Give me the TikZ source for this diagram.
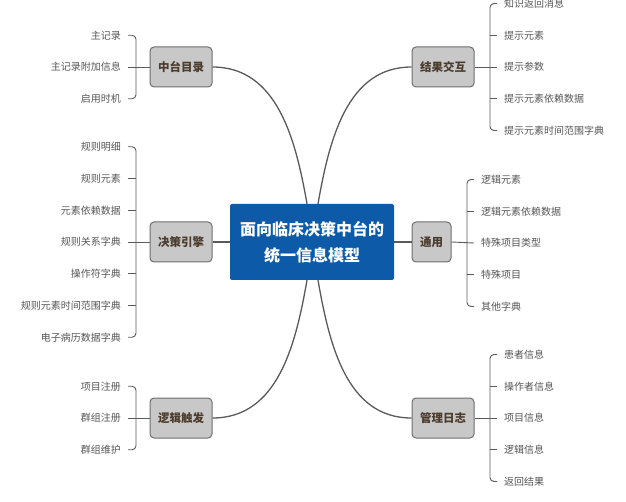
\documentclass[tikz,border=0pt]{standalone}
\usepackage{fontspec}
\setmainfont{Noto Sans CJK SC}
\usepackage{xcolor}

\definecolor{rootblue}{RGB}{12,90,168}
\definecolor{boxgray}{RGB}{200,200,200}
\definecolor{boxline}{RGB}{110,110,110}
\definecolor{branchtext}{RGB}{75,60,45}
\definecolor{leafgray}{RGB}{85,85,85}
\definecolor{linegray}{RGB}{90,90,90}

\begin{document}
\begin{tikzpicture}
    [x=1pt, y=1pt,
    trunk/.style={line width=1.3pt, draw=linegray},
    twig/.style={line width=0.9pt, draw=linegray},
    brace/.style={twig, rounded corners=4pt},
    root/.style={fill=rootblue, text=white, font=\fontsize{16}{26}\selectfont\bfseries,
        align=center, minimum width=164pt, minimum height=76pt, rounded corners=2pt},
    branch/.style={fill=boxgray, draw=boxline, line width=1pt, text=branchtext,
        font=\fontsize{11.5}{14}\selectfont\bfseries, minimum width=62pt,
        minimum height=40pt, rounded corners=4pt, inner sep=2pt},
    leaf/.style={text=leafgray, font=\fontsize{10}{12}\selectfont, inner sep=0pt}]

        \useasboundingbox (0,0) rectangle (626,-502);

        %% root and branches
        \node[root] (root) at (312,-242) {面向临床决策中台的\\统一信息模型};
        \node[branch] (zt) at (181,-67) {中台目录};
        \node[branch] (jc) at (181,-242) {决策引擎};
        \node[branch] (lj) at (181,-418) {逻辑触发};
        \node[branch] (jg) at (443,-67) {结果交互};
        \node[branch, minimum width=39pt] (ty) at (431.5,-242) {通用};
        \node[branch] (gl) at (443,-418) {管理日志};

        \draw[trunk] (zt.east) to[out=0, in=100] ([xshift=-5pt]root.north);
        \draw[trunk] (jg.west) to[out=180, in=80] ([xshift=6pt]root.north);
        \draw[trunk] (lj.east) to[out=0, in=-100] ([xshift=-5pt]root.south);
        \draw[trunk] (gl.west) to[out=180, in=-80] ([xshift=6pt]root.south);
        \draw[trunk] (jc) -- (root);
        \draw[trunk] (root) -- (ty);

        %% left leaves
        \foreach \t [count=\i] in {主记录, 主记录附加信息, 启用时机}
            \node[leaf, anchor=east] (zt-\i) at (121, {-67-(\i-2)*31.75}) {\t};
        \foreach \t [count=\i] in {规则明细, 规则元素, 元素依赖数据, 规则关系字典,
                操作符字典, 规则元素时间范围字典, 电子病历数据字典}
            \node[leaf, anchor=east] (jc-\i) at (121, {-242-(\i-4)*31.75}) {\t};
        \foreach \t [count=\i] in {项目注册, 群组注册, 群组维护}
            \node[leaf, anchor=east] (lj-\i) at (121, {-418-(\i-2)*31.75}) {\t};

        \draw[brace] ([xshift=7pt]zt-1.east) -| ([xshift=15pt]zt-2.east) |- ([xshift=7pt]zt-3.east);
        \draw[twig] ([xshift=7pt]zt-2.east) -- (zt.west);
        \draw[brace] ([xshift=7pt]jc-1.east) -| ([xshift=15pt]jc-4.east) |- ([xshift=7pt]jc-7.east);
        \foreach \i in {2,3,5,6}
            \draw[twig] ([xshift=7pt]jc-\i.east) -- ++(8,0);
        \draw[twig] ([xshift=7pt]jc-4.east) -- (jc.west);
        \draw[brace] ([xshift=7pt]lj-1.east) -| ([xshift=15pt]lj-2.east) |- ([xshift=7pt]lj-3.east);
        \draw[twig] ([xshift=7pt]lj-2.east) -- (lj.west);

        %% right leaves
        \foreach \t [count=\i] in {知识返回消息, 提示元素, 提示参数, 提示元素依赖数据, 提示元素时间范围字典}
            \node[leaf, anchor=west] (jg-\i) at (504, {-67-(\i-3)*31.75}) {\t};
        \foreach \t [count=\i] in {逻辑元素, 逻辑元素依赖数据, 特殊项目类型, 特殊项目, 其他字典}
            \node[leaf, anchor=west] (ty-\i) at (481, {-243-(\i-3)*31.75}) {\t};
        \foreach \t [count=\i] in {患者信息, 操作者信息, 项目信息, 逻辑信息, 返回结果}
            \node[leaf, anchor=west] (gl-\i) at (504, {-418-(\i-3)*31.75}) {\t};

        \foreach \b in {jg, ty, gl} {
            \draw[brace] ([xshift=-7pt]\b-1.west) -| ([xshift=-14pt]\b-3.west) |- ([xshift=-7pt]\b-5.west);
            \foreach \i in {2,4}
                \draw[twig] ([xshift=-7pt]\b-\i.west) -- ++(-7,0);
            \draw[twig] (\b.east) -- ([xshift=-7pt]\b-3.west);
        }
    \end{tikzpicture}
\end{document}
